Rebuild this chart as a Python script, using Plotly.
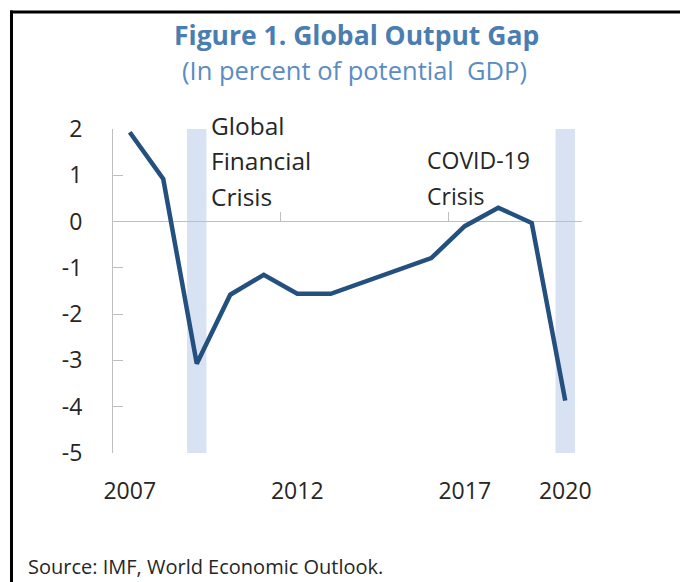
import plotly.graph_objects as go

# ---- data ----
years = [2007, 2008, 2009, 2010, 2011, 2012, 2013, 2014, 2015, 2016, 2017, 2018, 2019, 2020]
output_gap = [1.93, 0.92, -3.07, -1.58, -1.15, -1.56, -1.56, -1.31, -1.05, -0.79, -0.1, 0.3, -0.03, -3.87]
crisis_years = [2009, 2020]
xtick_years = [2007, 2012, 2017, 2020]
xtick_text = ["2007", "2012", "2017", "2020"]
ytick_vals = [2, 1, 0, -1, -2, -3, -4, -5]
ytick_text = ["2", "1", "0", "-1", "-2", "-3", "-4", "-5"]
boundary_ticks = [2011.5, 2016.5]

OFF = 8  # page body margin of the browser
W, H = 688 - OFF, 582 - OFF
# plot area in screen pixels
SX0, SX1, SY0, SY1 = 113, 582, 129.3, 452.7
L, T = SX0 - OFF, SY0 - OFF
pw, ph = SX1 - SX0, SY1 - SY0
R, B = W - L - pw, H - T - ph

def px(x):
    return (x - SX0) / pw

def py(y):
    return (SY1 - y) / ph

FONT = "Open Sans"
TXT = "#262626"

fig = go.Figure()
fig.add_trace(go.Scatter(
    x=years, y=output_gap, mode="lines",
    line=dict(color="#23507f", width=4.5),
    hoverinfo="skip", showlegend=False,
))
# invisible trace on overlay axis carrying the boundary ticks on the zero line
fig.add_trace(go.Scatter(x=[years[0]], y=[0], xaxis="x2", mode="markers",
                         marker=dict(opacity=0), showlegend=False, hoverinfo="skip"))

shapes = []
for cy in crisis_years:
    shapes.append(dict(type="rect", xref="x", yref="y", x0=cy - 0.29, x1=cy + 0.29,
                       y0=-5, y1=2, fillcolor="#d9e2f3", line=dict(width=0), layer="below"))
# frame lines (top and left)
shapes.append(dict(type="line", xref="paper", yref="paper", x0=px(10), x1=px(688),
                   y0=py(12.5), y1=py(12.5), line=dict(color="black", width=3)))
shapes.append(dict(type="line", xref="paper", yref="paper", x0=px(11.5), x1=px(11.5),
                   y0=py(11), y1=py(582), line=dict(color="black", width=3)))

annotations = [
    dict(text="<b>Figure 1. Global Output Gap</b>", x=px(356), y=py(35), xref="paper", yref="paper",
         showarrow=False, xanchor="center", yanchor="middle",
         font=dict(family=FONT, size=26.5, color="#4a7db1")),
    dict(text="(In percent of potential  GDP)", x=px(354), y=py(70), xref="paper", yref="paper",
         showarrow=False, xanchor="center", yanchor="middle",
         font=dict(family=FONT, size=25.5, color="#5a8cc4")),
    dict(text="Source: IMF, World Economic Outlook.", x=px(26), y=py(566), xref="paper", yref="paper",
         showarrow=False, xanchor="left", yanchor="middle",
         font=dict(family=FONT, size=20, color=TXT)),
]
for line_text, yy in [("Global", 126), ("Financial", 161), ("Crisis", 197)]:
    annotations.append(dict(text=line_text, x=px(209), y=py(yy), xref="paper", yref="paper",
                            showarrow=False, xanchor="left", yanchor="middle",
                            font=dict(family=FONT, size=24.5, color=TXT)))
for line_text, yy in [("COVID-19", 160), ("Crisis", 196)]:
    annotations.append(dict(text=line_text, x=px(425), y=py(yy), xref="paper", yref="paper",
                            showarrow=False, xanchor="left", yanchor="middle",
                            font=dict(family=FONT, size=23, color=TXT)))

fig.update_layout(
    width=W, height=H,
    margin=dict(l=L, r=R, t=T, b=B, autoexpand=False),
    paper_bgcolor="white", plot_bgcolor="white",
    font=dict(family=FONT, color=TXT),
    shapes=shapes, annotations=annotations,
    xaxis=dict(range=[2006.5, 2020.5], tickvals=xtick_years, ticktext=xtick_text,
               showgrid=False, zeroline=False, showline=False,
               ticks="outside", ticklen=17, tickcolor="rgba(0,0,0,0)",
               tickfont=dict(family=FONT, size=23, color=TXT)),
    xaxis2=dict(range=[2006.5, 2020.5], overlaying="x", anchor="free", position=5 / 7,
                side="bottom", tickvals=boundary_ticks, ticks="inside", ticklen=10,
                tickcolor="#bfbfbf", tickwidth=1, showticklabels=False,
                showgrid=False, zeroline=False, showline=False),
    yaxis=dict(range=[-5, 2], tickvals=ytick_vals, ticktext=ytick_text, showgrid=False,
               zeroline=True, zerolinecolor="#bfbfbf", zerolinewidth=1,
               showline=True, linecolor="#bfbfbf", linewidth=1,
               ticks="inside", ticklen=10, tickcolor="#bfbfbf", tickwidth=1,
               ticklabelstandoff=25,
               tickfont=dict(family=FONT, size=23, color=TXT)),
)

fig.write_html("out.html")
